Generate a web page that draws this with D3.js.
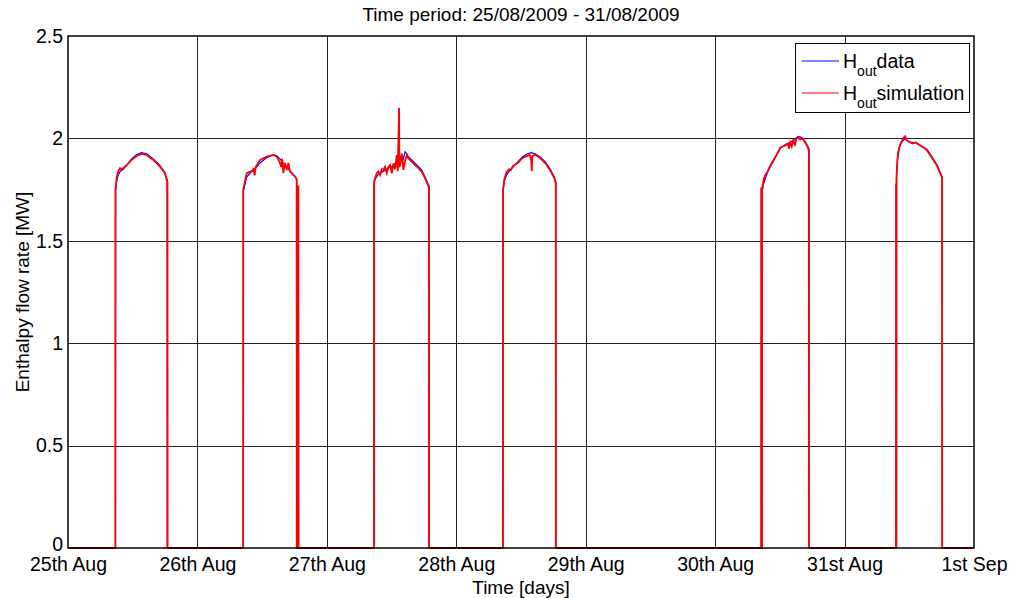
<!DOCTYPE html>
<html>
<head>
<meta charset="utf-8">
<script src="https://cdn.jsdelivr.net/npm/d3@7"></script>
<style>
  html, body { margin: 0; padding: 0; background: #fff; }
  svg { display: block; }
  text { font-family: "Liberation Sans", Arial, sans-serif; fill: #000; }
</style>
</head>
<body>
<svg id="chart" width="1013" height="598"></svg>
<script>
// ---- data (time in hours since 25/08/2009 00:00, value in MW) ----
const titleText = "Time period: 25/08/2009 - 31/08/2009";
const dayTicks = [0, 24, 48, 72, 96, 120, 144, 168];
const dayLabels = ["25th Aug", "26th Aug", "27th Aug", "28th Aug", "29th Aug", "30th Aug", "31st Aug", "1st Sep"];
const yTicks = [0, 0.5, 1, 1.5, 2, 2.5];
const yLabels = ["0", "0.5", "1", "1.5", "2", "2.5"];

const hData = [
  [0,0],
  [8.80,0],[8.82,1.74],[9.0,1.79],[9.3,1.82],[9.7,1.84],[10.3,1.85],[10.9,1.87],[11.8,1.90],[12.7,1.92],[13.6,1.93],[14.6,1.925],[15.8,1.90],[17.0,1.87],[17.9,1.835],[18.3,1.80],[18.42,1.80],[18.44,0],
  [32.50,0],[32.52,1.74],[33.1,1.81],[34.1,1.84],[35.0,1.86],[35.6,1.88],[36.8,1.905],[38.1,1.92],[38.7,1.915],[39.3,1.90],[39.9,1.88],[40.6,1.86],[41.2,1.84],[42.1,1.815],[42.4,1.80],[42.42,0],
  [56.74,0],[56.76,1.77],[56.94,1.80],[57.55,1.825],[58.48,1.84],[59.11,1.85],[59.72,1.86],[60.33,1.865],[60.96,1.89],[61.3,1.90],[61.39,2.15],[61.45,1.90],[61.89,1.92],[62.19,1.90],[62.5,1.935],[62.82,1.925],[63.11,1.91],[63.75,1.895],[64.67,1.87],[65.60,1.845],[66.21,1.81],[66.83,1.775],[66.95,1.77],[66.96,0],
  [80.66,0],[80.68,1.74],[80.9,1.79],[81.3,1.82],[81.8,1.84],[82.5,1.86],[83.4,1.885],[84.3,1.91],[85.2,1.925],[85.9,1.93],[86.6,1.925],[87.5,1.91],[88.5,1.885],[89.4,1.85],[90.1,1.815],[90.45,1.79],[90.47,0],
  [128.70,0],[128.72,1.74],[129.0,1.78],[129.64,1.83],[130.4,1.87],[131.2,1.91],[132.05,1.95],[133.0,1.97],[133.91,1.98],[134.7,1.995],[135.39,2.01],[136.0,2.005],[136.69,1.985],[137.2,1.96],[137.40,1.95],[137.42,0],
  [153.60,0],[153.62,1.80],[153.8,1.90],[154.2,1.96],[154.7,1.985],[155.24,2.0],[155.8,1.985],[156.6,1.98],[157.5,1.975],[158.4,1.96],[159.32,1.945],[160.2,1.91],[161.17,1.87],[161.8,1.83],[162.1,1.81],[162.12,0],
  [168,0]
];

const hSim = [
  [0,0],
  [8.78,0],[8.80,1.75],[9.03,1.81],[9.33,1.84],[9.64,1.855],[10.0,1.85],[10.26,1.855],[10.89,1.87],[11.81,1.895],[12.74,1.914],[13.67,1.924],[14.60,1.919],[15.82,1.895],[17.06,1.862],[17.99,1.83],[18.31,1.797],[18.40,1.79],[18.42,0],[18.45,1.79],[18.47,0],
  [32.48,0],[32.50,1.75],[33.14,1.83],[33.6,1.835],[34.07,1.84],[34.4,1.85],[34.6,1.82],[34.8,1.86],[35.61,1.895],[36.85,1.911],[38.08,1.919],[38.71,1.911],[39.32,1.88],[39.5,1.86],[39.7,1.90],[39.93,1.83],[40.2,1.88],[40.56,1.846],[40.86,1.88],[41.17,1.838],[42.10,1.813],[42.40,1.80],[42.42,0],[42.70,0],[42.72,1.77],[42.76,0],
  [56.73,0],[56.75,1.79],[56.94,1.805],[57.25,1.83],[57.55,1.838],[57.87,1.821],[58.2,1.85],[58.48,1.846],[58.79,1.862],[59.11,1.83],[59.4,1.86],[59.72,1.87],[60.04,1.83],[60.33,1.878],[60.65,1.85],[60.96,1.919],[61.15,1.84],[61.39,2.147],[61.45,1.86],[61.58,1.867],[61.89,1.927],[62.19,1.846],[62.50,1.89],[62.82,1.919],[63.11,1.903],[63.75,1.886],[64.67,1.862],[65.60,1.838],[66.21,1.805],[66.83,1.768],[66.94,1.76],[66.95,0],
  [80.64,0],[80.66,1.75],[80.9,1.80],[81.3,1.835],[81.8,1.85],[82.1,1.845],[82.5,1.865],[83.4,1.88],[84.3,1.905],[85.2,1.915],[85.6,1.92],[85.9,1.89],[86.0,1.84],[86.1,1.915],[86.6,1.92],[87.5,1.905],[88.5,1.88],[89.4,1.845],[90.1,1.81],[90.45,1.78],[90.46,0],
  [128.52,0],[128.53,1.76],[128.56,0],[128.68,0],[128.70,1.75],[129.0,1.80],[129.3,1.82],[129.64,1.835],[130.4,1.875],[131.2,1.91],[132.05,1.955],[133.0,1.965],[133.5,1.975],[133.7,1.95],[133.91,1.98],[134.2,1.96],[134.5,1.99],[134.8,1.97],[135.1,2.0],[135.39,2.005],[135.8,1.995],[136.2,2.0],[136.69,1.98],[137.2,1.955],[137.38,1.94],[137.40,0],
  [153.52,0],[153.54,1.78],[153.56,0],[153.62,0],[153.64,1.82],[153.9,1.93],[154.3,1.97],[154.7,1.99],[155.0,2.005],[155.24,2.01],[155.5,1.99],[155.9,1.985],[156.17,1.98],[156.6,1.975],[157.2,1.98],[158.02,1.965],[158.7,1.955],[159.32,1.94],[160.2,1.905],[161.17,1.865],[161.8,1.825],[162.08,1.81],[162.10,0],
  [168,0]
];

// ---- layout ----
const margin = {left: 68, top: 36, right: 1013 - 974, bottom: 598 - 548};
const W = 1013, H = 598;
const iw = W - margin.left - margin.right;
const ih = H - margin.top - margin.bottom;
const TICKFONT = 19.5;
const LABELFONT = 19;

const svg = d3.select("#chart");
const g = svg.append("g").attr("transform", `translate(${margin.left},${margin.top})`);

const x = d3.scaleLinear().domain([0, 168]).range([0, iw]);
const y = d3.scaleLinear().domain([0, 2.5]).range([ih, 0]);

// grid
g.append("g").selectAll("line").data(dayTicks.slice(1, -1)).join("line")
  .attr("x1", d => Math.round(x(d)) + 0.5).attr("x2", d => Math.round(x(d)) + 0.5)
  .attr("y1", 0).attr("y2", ih).attr("stroke", "#222").attr("stroke-width", 1);
g.append("g").selectAll("line").data(yTicks.slice(1, -1)).join("line")
  .attr("y1", d => Math.round(y(d)) + 0.5).attr("y2", d => Math.round(y(d)) + 0.5)
  .attr("x1", 0).attr("x2", iw).attr("stroke", "#222").attr("stroke-width", 1);

// axes
const xAxis = d3.axisBottom(x).tickValues(dayTicks).tickFormat((d, i) => dayLabels[i]).tickSize(0).tickPadding(9);
const yAxis = d3.axisLeft(y).tickValues(yTicks).tickFormat((d, i) => yLabels[i]).tickSize(0).tickPadding(5);
const gx = g.append("g").attr("transform", `translate(0,${ih})`).call(xAxis);
const gy = g.append("g").call(yAxis);
[gx, gy].forEach(a => {
  a.select(".domain").remove();
  a.selectAll("text").attr("font-size", TICKFONT).attr("font-family", "Liberation Sans, Arial, sans-serif").attr("fill", "#000");
});
gy.selectAll(".tick").filter(d => d === 0).select("text").attr("dy", "0.12em");

// lines
const line = d3.line().x(d => x(d[0])).y(d => y(d[1]));
g.append("path").datum(hData).attr("d", line).attr("fill", "none").attr("stroke", "#0000ff").attr("stroke-width", 1.2);
g.append("path").datum(hSim).attr("d", line).attr("fill", "none").attr("stroke", "#ff0000").attr("stroke-width", 1.8);

// frame
g.append("rect").attr("x", 0).attr("y", 0).attr("width", iw).attr("height", ih)
  .attr("fill", "none").attr("stroke", "#000").attr("stroke-width", 1.5);

// title & axis labels
svg.append("text").attr("x", margin.left + iw / 2).attr("y", 21).attr("text-anchor", "middle")
  .attr("font-size", LABELFONT).text(titleText);
svg.append("text").attr("x", margin.left + iw / 2).attr("y", 594).attr("text-anchor", "middle")
  .attr("font-size", LABELFONT).text("Time [days]");
svg.append("text").attr("transform", `translate(29,${margin.top + ih / 2}) rotate(-90)`).attr("text-anchor", "middle")
  .attr("font-size", LABELFONT).text("Enthalpy flow rate [MW]");

// legend
const legendItems = [{label: "data", color: "#0000ff"}, {label: "simulation", color: "#ff0000"}];
const lg = svg.append("g").attr("transform", "translate(795,43)");
lg.append("rect").attr("x", 0.5).attr("y", 0.5).attr("width", 174).attr("height", 69)
  .attr("fill", "#fff").attr("stroke", "#000").attr("stroke-width", 1);
legendItems.forEach((it, i) => {
  const yy = 18 + i * 32;
  lg.append("line").attr("x1", 7).attr("x2", 44).attr("y1", yy).attr("y2", yy).attr("stroke", it.color).attr("stroke-width", 1);
  const t = lg.append("text").attr("x", 48).attr("y", yy + 7).attr("font-size", 19.5);
  t.append("tspan").text("H");
  t.append("tspan").attr("font-size", 14).attr("dy", 8).text("out");
  t.append("tspan").attr("dy", -8).text(it.label);
});
</script>
</body>
</html>
